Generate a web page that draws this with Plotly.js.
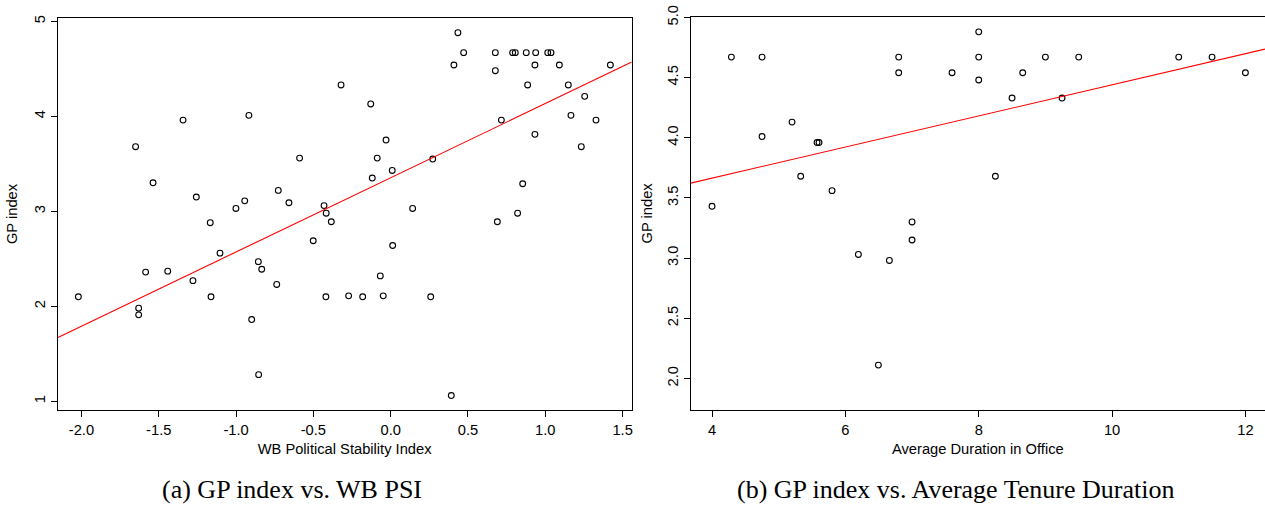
<!DOCTYPE html>
<html>
<head>
<meta charset="utf-8">
<script src="https://cdn.plot.ly/plotly-3.0.1.min.js"></script>
<style>html,body{margin:0;padding:0;background:#fff;}#chart{width:1265px;height:508px;}</style>
</head>
<body>
<div id="chart"></div>
<script>
// Panel (a): GP index vs. WB Political Stability Index
const psiX = [-2.02,-1.65,-1.63,-1.63,-1.585,-1.537,-1.442,-1.343,-1.279,-1.257,-1.167,-1.162,-1.104,-1.001,-0.944,-0.917,-0.899,-0.856,-0.854,-0.834,-0.737,-0.727,-0.658,-0.589,-0.501,-0.431,-0.419,-0.417,-0.384,-0.321,-0.272,-0.181,-0.129,-0.119,-0.087,-0.067,-0.048,-0.030,0.010,0.013,0.142,0.259,0.272,0.392,0.409,0.435,0.472,0.677,0.677,0.690,0.716,0.789,0.806,0.821,0.854,0.877,0.886,0.933,0.933,0.938,1.016,1.037,1.091,1.149,1.166,1.233,1.255,1.328,1.421];
const psiY = [2.10,3.68,1.98,1.91,2.36,3.30,2.37,3.96,2.27,3.15,2.88,2.10,2.56,3.03,3.11,4.01,1.86,2.47,1.28,2.39,2.23,3.22,3.09,3.56,2.69,3.06,2.10,2.98,2.89,4.33,2.11,2.10,4.13,3.35,3.56,2.32,2.11,3.75,3.43,2.64,3.03,2.10,3.55,1.06,4.54,4.88,4.67,4.67,4.48,2.89,3.96,4.67,4.67,2.98,3.29,4.67,4.33,4.54,3.81,4.67,4.67,4.67,4.54,4.33,4.01,3.68,4.21,3.96,4.54];
const fitA = [3.353, 0.781]; // intercept, slope

// Panel (b): GP index vs. Average Duration in Office
const durX = [4.0,4.29,4.75,4.75,5.2,5.33,5.575,5.605,5.8,6.195,6.495,6.66,6.8,6.8,7.0,7.0,7.6,8.0,8.0,8.0,8.25,8.5,8.66,9.0,9.25,9.5,11.0,11.5,12.0];
const durY = [3.43,4.67,4.67,4.01,4.13,3.68,3.96,3.96,3.56,3.03,2.11,2.98,4.67,4.54,3.30,3.15,4.54,4.88,4.67,4.48,3.68,4.33,4.54,4.67,4.33,4.67,4.67,4.67,4.54];
const fitB = [3.147, 0.1293];

// Tick labels
const xTickValsA = [-2.0,-1.5,-1.0,-0.5,0.0,0.5,1.0,1.5];
const xTickTextA = ["-2.0","-1.5","-1.0","-0.5","0.0","0.5","1.0","1.5"];
const yTickValsA = [1,2,3,4,5];
const yTickTextA = ["1","2","3","4","5"];
const xTickValsB = [4,6,8,10,12];
const xTickTextB = ["4","6","8","10","12"];
const yTickValsB = [2.0,2.5,3.0,3.5,4.0,4.5,5.0];
const yTickTextB = ["2.0","2.5","3.0","3.5","4.0","4.5","5.0"];

const captions = ["(a) GP index vs. WB PSI", "(b) GP index vs. Average Tenure Duration"];
const xTitles = ["WB Political Stability Index", "Average Duration in Office"];
const yTitle = "GP index";

const W = 1265, H = 508;
const rangeXA = [-2.155, 1.559], rangeYA = [0.908, 5.035];
const rangeXB = [3.68, 12.294], rangeYB = [1.737, 5.006];

const sans = "Liberation Sans, Arial, Helvetica, sans-serif";
const fs = 14.7;

const marker = {symbol: 'circle-open', size: 5.8, color: '#000', line: {width: 1.1, color: '#000'}};

const traces = [
  {x: psiX, y: psiY, mode: 'markers', type: 'scatter', marker: marker, xaxis: 'x', yaxis: 'y', hoverinfo: 'skip'},
  {x: rangeXA, y: rangeXA.map(v => fitA[0] + fitA[1]*v), mode: 'lines', type: 'scatter', line: {color: '#ff0000', width: 1.1}, xaxis: 'x', yaxis: 'y', hoverinfo: 'skip'},
  {x: durX, y: durY, mode: 'markers', type: 'scatter', marker: marker, xaxis: 'x2', yaxis: 'y2', hoverinfo: 'skip'},
  {x: rangeXB, y: rangeXB.map(v => fitB[0] + fitB[1]*v), mode: 'lines', type: 'scatter', line: {color: '#ff0000', width: 1.1}, xaxis: 'x2', yaxis: 'y2', hoverinfo: 'skip'}
];

function axisBase(extra) {
  return Object.assign({
    showgrid: false, zeroline: false, showline: true, mirror: true,
    linecolor: '#000', linewidth: 1, ticks: 'outside', ticklen: 6, tickwidth: 1, tickcolor: '#000',
    tickfont: {family: sans, size: fs, color: '#000'}, tickmode: 'array', fixedrange: true
  }, extra);
}

const layout = {
  width: W, height: H,
  margin: {l: 0, r: 0, t: 0, b: 0, pad: 0},
  paper_bgcolor: '#fff', plot_bgcolor: '#fff',
  showlegend: false,
  font: {family: sans, size: fs, color: '#000'},
  xaxis: axisBase({domain: [57.5/W, 631.7/W], range: rangeXA, tickvals: xTickValsA, ticktext: xTickTextA, anchor: 'y',
    title: {text: xTitles[0], font: {family: sans, size: fs, color: '#000'}, standoff: 7}}),
  yaxis: axisBase({domain: [98/H, 490/H], range: rangeYA, tickvals: yTickValsA, ticktext: yTickTextA, tickangle: -90, anchor: 'x',
    title: {text: yTitle, font: {family: sans, size: fs, color: '#000'}, standoff: 10}}),
  xaxis2: axisBase({domain: [690.7/W, 1], range: rangeXB, tickvals: xTickValsB, ticktext: xTickTextB, anchor: 'y2',
    title: {text: xTitles[1], font: {family: sans, size: fs, color: '#000'}, standoff: 7}}),
  yaxis2: axisBase({domain: [98/H, 491.3/H], range: rangeYB, tickvals: yTickValsB, ticktext: yTickTextB, tickangle: -90, anchor: 'x2',
    title: {text: yTitle, font: {family: sans, size: fs, color: '#000'}, standoff: 8}}),
  annotations: [
    {text: captions[0], xref: 'paper', yref: 'paper', x: 292/W, y: (H-489)/H, xanchor: 'center', yanchor: 'middle', showarrow: false,
     font: {family: 'Liberation Serif, Times New Roman, serif', size: 26, color: '#000'}},
    {text: captions[1], xref: 'paper', yref: 'paper', x: 955/W, y: (H-489)/H, xanchor: 'center', yanchor: 'middle', showarrow: false,
     font: {family: 'Liberation Serif, Times New Roman, serif', size: 26, color: '#000'}}
  ]
};

Plotly.newPlot('chart', traces, layout, {staticPlot: true, displayModeBar: false});
</script>
</body>
</html>
